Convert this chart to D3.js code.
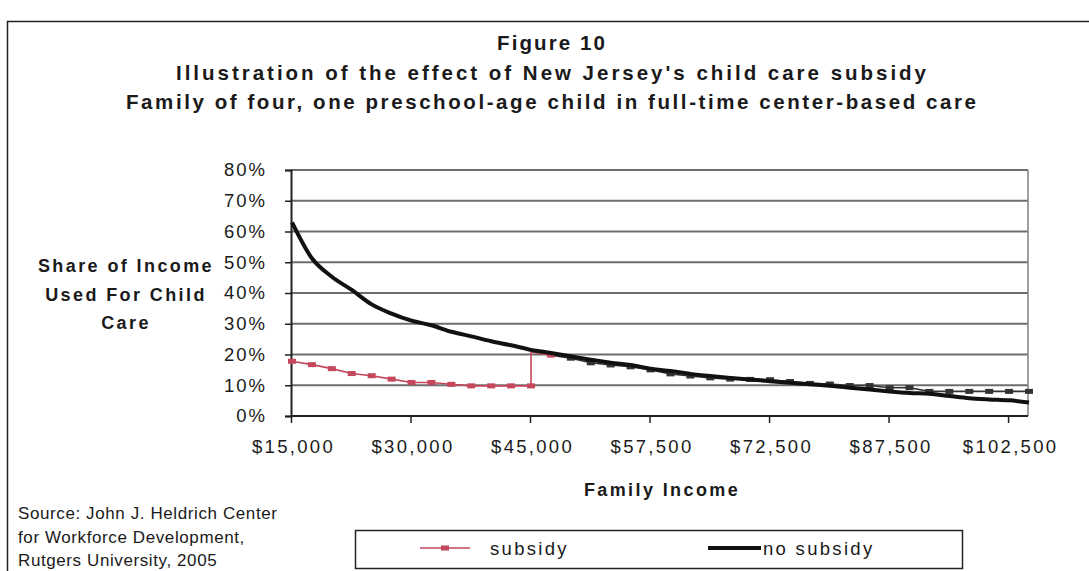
<!DOCTYPE html>
<html>
<head>
<meta charset="utf-8">
<script src="https://cdn.jsdelivr.net/npm/d3@7"></script>
<style>
  html, body { margin: 0; padding: 0; background: #fff; }
  svg { display: block; font-family: "Liberation Sans", Arial, sans-serif; }
</style>
</head>
<body>
<svg id="chart" width="1089" height="571"></svg>
<script>
// Family income categories (one point per category on the horizontal axis)
const incomes = [
  15000, 17500, 20000, 22500, 25000, 27500, 30000, 32500, 35000, 37500,
  40000, 42500, 45000, 46000, 47500, 50000, 52500, 55000, 57500, 60000,
  62500, 65000, 67500, 70000, 72500, 75000, 77500, 80000, 82500, 85000,
  87500, 90000, 92500, 95000, 97500, 100000, 102500, 105000
];

// Share of income spent on child care, percent
const subsidyShare = [
  17.8, 16.7, 15.4, 13.8, 13.1, 12.0, 10.9, 10.9, 10.3, 9.8,
  9.8, 9.8, 9.8, 19.8, 18.8, 17.3, 16.6, 16.0, 15.0, 13.7,
  13.0, 12.4, 12.0, 11.9, 11.8, 11.2, 10.6, 10.4, 9.9, 9.9,
  9.2, 9.2, 8.0, 8.0, 8.0, 8.0, 8.0, 8.0
];
const noSubsidyShare = [
  63.0, 51.3, 45.3, 41.0, 36.3, 33.3, 31.0, 29.5, 27.4, 25.9,
  24.3, 23.0, 21.5, 20.5, 19.4, 18.3, 17.3, 16.6, 15.4, 14.6,
  13.7, 13.0, 12.4, 11.9, 11.3, 10.8, 10.3, 9.8, 9.2, 8.6,
  8.0, 7.5, 7.2, 6.5, 5.8, 5.4, 5.1, 4.4
];

// Eligibility ends at the $45,000 category: share jumps up to this value
const cutoffIndex = 12;
const shareAfterCutoff = 20.8;

const yTicks = [0, 10, 20, 30, 40, 50, 60, 70, 80];
const xTickEvery = 6;

const titleLines = [
  "Figure 10",
  "Illustration of the effect of New Jersey's child care subsidy",
  "Family of four, one preschool-age child in full-time center-based care"
];
const yTitleLines = ["Share of Income", "Used For Child", "Care"];
const sourceLines = [
  "Source: John J. Heldrich Center",
  "for Workforce Development,",
  "Rutgers University, 2005"
];
const seriesNames = ["subsidy", "no subsidy"];

const RED = "#c4475b";
const DARK = "#111";
const GRID = "#6e6e6e";
const TXT = "#1a1a1a";

const svg = d3.select("#chart");

// Outer frame
svg.append("rect")
  .attr("x", 7.5).attr("y", 21.5)
  .attr("width", 1100).attr("height", 600)
  .attr("fill", "none").attr("stroke", "#222").attr("stroke-width", 1.5);

// Titles
const titleW = [108, 750, 850];
svg.append("g").selectAll("text").data(titleLines).join("text")
  .attr("x", 551)
  .attr("y", (d, i) => 50 + i * 29.5)
  .attr("text-anchor", "middle")
  .attr("font-size", 20.5)
  .attr("font-weight", "bold")
  .attr("fill", TXT)
  .attr("textLength", (d, i) => titleW[i])
  .attr("lengthAdjust", "spacing")
  .text(d => d);

// Scales
const plotLeft = 291, plotRight = 1028;
const x = d3.scaleLinear().domain([0, incomes.length - 1]).range([292, 1029]);
const y = d3.scaleLinear().domain([0, 80]).range([416, 170]);

// Horizontal gridlines
svg.append("g").selectAll("line").data(yTicks.filter(v => v > 0)).join("line")
  .attr("x1", plotLeft).attr("x2", plotRight)
  .attr("y1", d => y(d)).attr("y2", d => y(d))
  .attr("stroke", GRID).attr("stroke-width", 2);

// Right edge of plot
svg.append("line")
  .attr("x1", plotRight).attr("x2", plotRight)
  .attr("y1", y(80)).attr("y2", y(0))
  .attr("stroke", "#808080").attr("stroke-width", 1.5);

// Y axis
const yAxis = d3.axisLeft(y).tickValues(yTicks).tickFormat(d => d + "%").tickSize(6).tickPadding(20);
const gy = svg.append("g").attr("transform", `translate(${plotLeft},0)`).call(yAxis);
gy.select(".domain").attr("stroke", "#222").attr("stroke-width", 2);
gy.selectAll(".tick line").attr("stroke", "#222").attr("stroke-width", 1.5);
gy.selectAll(".tick text")
  .attr("font-family", "Liberation Sans, Arial, sans-serif")
  .attr("font-size", 18.5).attr("letter-spacing", 2).attr("fill", TXT)
  .attr("x", -24);

// X axis (category index scale, labelled with incomes)
const xTickIdx = d3.range(0, incomes.length, xTickEvery);
const fmtMoney = d3.format("$,");
const xAxis = d3.axisBottom(x).tickValues(xTickIdx)
  .tickFormat(i => fmtMoney(incomes[i])).tickSize(7).tickPadding(17);
const gx = svg.append("g").attr("transform", `translate(0,${y(0)})`).call(xAxis);
gx.select(".domain").remove();
gx.append("line").attr("x1", plotLeft).attr("x2", plotRight).attr("y1", 0).attr("y2", 0)
  .attr("stroke", "#222").attr("stroke-width", 2);
gx.selectAll(".tick line").attr("stroke", "#222").attr("stroke-width", 1.5)
  .attr("transform", "translate(-1,0)");
gx.selectAll(".tick text")
  .attr("font-family", "Liberation Sans, Arial, sans-serif")
  .attr("font-size", 18.5).attr("letter-spacing", 2.3).attr("fill", TXT)
  .attr("dx", 1);

// Axis titles
svg.append("g").selectAll("text").data(yTitleLines).join("text")
  .attr("x", 126).attr("y", (d, i) => 272 + i * 28.5)
  .attr("text-anchor", "middle")
  .attr("font-size", 18).attr("font-weight", "bold").attr("letter-spacing", 2.4)
  .attr("fill", TXT)
  .text(d => d);

svg.append("text")
  .attr("x", 662).attr("y", 496)
  .attr("text-anchor", "middle")
  .attr("font-size", 18).attr("font-weight", "bold").attr("letter-spacing", 2.4)
  .attr("fill", TXT)
  .text("Family Income");

// Source note
svg.append("g").selectAll("text").data(sourceLines).join("text")
  .attr("x", 18).attr("y", (d, i) => 519 + i * 23.5)
  .attr("font-size", 17).attr("letter-spacing", 0.6)
  .attr("fill", TXT)
  .text(d => d);

// Subsidy series: eligible part (red), with the jump at the cutoff
const idx = d3.range(incomes.length);
const eligiblePts = idx.filter(i => i <= cutoffIndex).map(i => [i, subsidyShare[i]])
  .concat([[cutoffIndex, shareAfterCutoff], [cutoffIndex + 1, subsidyShare[cutoffIndex + 1]]]);
const lineGen = d3.line().x(d => x(d[0])).y(d => y(d[1]));

svg.append("path")
  .attr("d", lineGen(eligiblePts))
  .attr("fill", "none").attr("stroke", RED).attr("stroke-width", 1.6);

// Subsidy series beyond the cutoff (dark)
const ineligibleIdx = idx.filter(i => i > cutoffIndex);
svg.append("path")
  .attr("d", lineGen(ineligibleIdx.map(i => [i, subsidyShare[i]])))
  .attr("fill", "none").attr("stroke", "#333").attr("stroke-width", 1.6);

svg.append("g").selectAll("rect").data(idx).join("rect")
  .attr("x", i => x(i) - 4).attr("y", i => y(subsidyShare[i]) - 2.5)
  .attr("width", 8).attr("height", 5)
  .attr("fill", i => i <= cutoffIndex + 1 ? RED : "#333");

// No-subsidy series
svg.append("path")
  .attr("d", d3.line().x((d, i) => x(i)).y(d => y(d)).curve(d3.curveMonotoneX)(noSubsidyShare))
  .attr("fill", "none").attr("stroke", DARK).attr("stroke-width", 4)
  .attr("stroke-linejoin", "round");

// Legend
const lg = svg.append("g");
lg.append("rect").attr("x", 355.5).attr("y", 530.5).attr("width", 607).attr("height", 38)
  .attr("fill", "#fff").attr("stroke", "#222").attr("stroke-width", 1.5);
lg.append("line").attr("x1", 420).attr("x2", 470).attr("y1", 548).attr("y2", 548)
  .attr("stroke", RED).attr("stroke-width", 1.6);
lg.append("rect").attr("x", 441).attr("y", 545.5).attr("width", 8).attr("height", 5).attr("fill", RED);
lg.append("line").attr("x1", 708).attr("x2", 761).attr("y1", 548).attr("y2", 548)
  .attr("stroke", DARK).attr("stroke-width", 4);
lg.selectAll("text.lbl").data(seriesNames).join("text")
  .attr("class", "lbl")
  .attr("x", (d, i) => i === 0 ? 490 : 763).attr("y", 555)
  .attr("font-size", 18.5).attr("letter-spacing", 2.3).attr("fill", TXT)
  .text(d => d);
</script>
</body>
</html>
